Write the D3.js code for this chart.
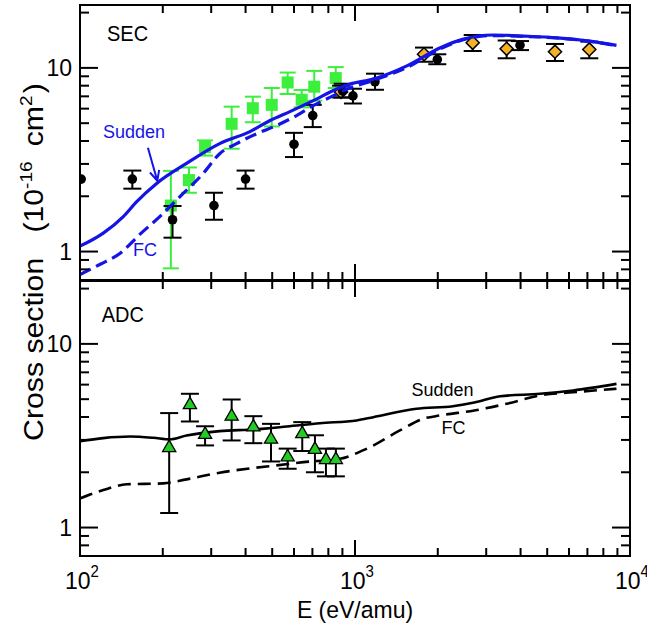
<!DOCTYPE html>
<html><head><meta charset="utf-8">
<script src="https://cdn.jsdelivr.net/npm/d3@7"></script>
<style>body{margin:0;background:#fff}svg{display:block}</style></head>
<body><svg id="c" width="647" height="631"></svg>
<script>
// ---------- axes ----------
const xDomain = [100, 10000];
const yDomain = [0.7, 22];
const xTickBase = ["10", "10", "10"];
const xTickExp = ["2", "3", "4"];
const yTickLabels = ["1", "10"];

// ---------- SEC panel data ----------
const secCircE  = [101, 155, 217, 307, 400, 600, 702, 902, 983, 1182, 1992, 3981];
const secCircV  = [2.48, 2.48, 1.49, 1.78, 2.48, 3.84, 5.5, 7.5, 7.04, 8.4, 11.1, 13.3];
const secCircLo = [2.48, 2.2, 1.19, 1.49, 2.2, 3.27, 4.76, 6.9, 6.4, 7.6, 10.47, 12.5];
const secCircHi = [2.48, 2.76, 1.77, 2.09, 2.76, 4.43, 6.29, 8.2, 7.7, 9.3, 11.86, 14.0];

const secSqE  = [214, 249, 285, 356, 425, 498, 569, 640, 711, 851];
const secSqV  = [1.78, 2.45, 3.71, 4.96, 6.03, 6.29, 8.33, 6.71, 7.9, 8.8];
const secSqLo = [0.81, 2.09, 3.33, 3.63, 5.06, 4.8, 7.21, 6.1, 6.63, 7.77];
const secSqHi = [2.75, 2.87, 4.03, 6.15, 6.97, 7.77, 9.43, 7.58, 9.63, 10.1];

const secDiaE  = [890, 1782, 2679, 3560, 5336, 7112];
const secDiaV  = [7.4, 11.86, 13.7, 12.7, 12.25, 12.6];
const secDiaLo = [6.9, 10.8, 12.36, 11.28, 10.9, 11.28];
const secDiaHi = [8.0, 12.9, 15.1, 14.1, 13.5, 13.9];

const secSuddenE = [100, 121.5, 143.7, 160.8, 190, 244, 322, 415, 491, 580, 705, 858, 960, 1165, 1544, 2043, 2459, 3176, 4108, 5436, 7145, 8930];
const secSuddenV = [1.07, 1.26, 1.55, 1.87, 2.35, 3.02, 3.87, 4.5, 5.17, 5.78, 6.63, 7.67, 8.16, 8.69, 10.25, 12.87, 14.3, 15.1, 14.9, 14.58, 14.0, 13.27];

const secFcE = [100, 118, 140, 165, 195, 231, 281, 322, 371, 439, 519, 613, 705, 810, 935, 1165, 1544, 2043, 2459, 3176, 4108, 5436, 7145, 8930];
const secFcV = [0.75, 0.85, 0.98, 1.24, 1.55, 1.99, 2.67, 3.41, 3.87, 4.38, 4.86, 5.5, 6.23, 6.91, 7.67, 8.55, 10.05, 12.7, 14.2, 15.0, 14.85, 14.55, 13.95, 13.2];

// ---------- ADC panel data ----------
const adcTriE  = [211, 251, 285, 356, 427, 495, 569, 643, 715, 784, 852];
const adcTriV  = [2.72, 4.66, 3.21, 4.03, 3.52, 3.02, 2.42, 3.24, 2.66, 2.34, 2.34];
const adcTriLo = [1.2, 3.78, 2.8, 2.98, 2.88, 2.29, 2.09, 2.61, 2.0, 1.9, 1.9];
const adcTriHi = [4.2, 5.35, 3.56, 4.98, 4.04, 3.67, 2.69, 3.75, 3.18, 2.69, 2.69];

const adcSuddenE = [100, 121.5, 152, 185, 212, 244, 322, 427, 565, 746, 1014, 1165, 1673, 2270, 2715, 3372, 4705, 6209, 8930];
const adcSuddenV = [2.95, 3.07, 3.13, 3.08, 3.02, 3.17, 3.35, 3.42, 3.55, 3.70, 3.83, 3.99, 4.43, 4.58, 4.8, 5.19, 5.35, 5.58, 6.06];

const adcFcE = [100, 121.5, 148, 201, 244, 322, 427, 519, 649, 882, 1105, 1456, 1770, 2043, 2715, 3560, 4705, 6209, 8930];
const adcFcV = [1.44, 1.6, 1.72, 1.74, 1.83, 1.99, 2.11, 2.18, 2.27, 2.37, 2.69, 3.38, 3.91, 4.08, 4.34, 4.72, 5.24, 5.45, 5.7];

// ---------- annotations (data coords) ----------
const secLabelPos = [125.4, 14.0];
const secSuddenLabelPos = [121.2, 4.16];
const secFcLabelPos = [156, 0.95];
const secArrowFrom = [176.6, 3.67];
const secArrowTo = [191, 2.43];
const adcLabelPos = [119.9, 13.2];
const adcSuddenLabelPos = [1606, 5.2];
const adcFcLabelPos = [2063, 3.23];

// ---------- drawing ----------
const FONT = "'Liberation Sans', Arial, Helvetica, sans-serif";
const BLUE = "#1414e6", GREEN = "#3cef3c", ORANGE = "#f4b223", TRI = "#22cc22";
const svg = d3.select("#c");
const L = 80, R = 630;
const x = d3.scaleLog().domain(xDomain).range([L, R]);
const yT = d3.scaleLog().domain(yDomain).range([280, 5]);
const yB = d3.scaleLog().domain(yDomain).range([556, 281]);

function isMajor(v) { return Math.abs(Math.log10(v) - Math.round(Math.log10(v))) < 1e-6; }

function frame(y) {
  const [y0, y1] = [y.range()[1], y.range()[0]];
  const g = svg.append("g");
  const xt = x.ticks();
  g.selectAll(null).data(xt).join("line")
    .attr("x1", d => x(d)).attr("x2", d => x(d))
    .attr("y1", y0).attr("y2", d => y0 + (isMajor(d) ? 16 : 8))
    .attr("stroke", "#000").attr("stroke-width", 2);
  g.selectAll(null).data(xt).join("line")
    .attr("x1", d => x(d)).attr("x2", d => x(d))
    .attr("y1", y1).attr("y2", d => y1 - (isMajor(d) ? 16 : 8))
    .attr("stroke", "#000").attr("stroke-width", 2);
  const yt = y.ticks();
  g.selectAll(null).data(yt).join("line")
    .attr("y1", d => y(d)).attr("y2", d => y(d))
    .attr("x1", L).attr("x2", d => L + (isMajor(d) ? 18 : 9))
    .attr("stroke", "#000").attr("stroke-width", 2);
  g.selectAll(null).data(yt).join("line")
    .attr("y1", d => y(d)).attr("y2", d => y(d))
    .attr("x1", R).attr("x2", d => R - (isMajor(d) ? 18 : 9))
    .attr("stroke", "#000").attr("stroke-width", 2);
  g.append("rect").attr("x", L).attr("y", y0).attr("width", R - L).attr("height", y1 - y0)
    .attr("fill", "none").attr("stroke", "#000").attr("stroke-width", 2);
  const majors = yt.filter(isMajor);
  g.selectAll(null).data(majors).join("text")
    .attr("transform", d => `translate(72,${y(d) + 8.5}) scale(1,1.08)`)
    .attr("text-anchor", "end").attr("font-family", FONT).attr("font-size", 23)
    .text((d, i) => yTickLabels[i]);
}

function errorBars(g, y, E, lo, hi, color, cap) {
  const idx = d3.range(E.length).filter(i => hi[i] > lo[i]);
  g.selectAll(null).data(idx).join("line")
    .attr("x1", i => x(E[i])).attr("x2", i => x(E[i]))
    .attr("y1", i => y(lo[i])).attr("y2", i => y(hi[i]))
    .attr("stroke", color).attr("stroke-width", 2);
  g.selectAll(null).data(idx.flatMap(i => [[i, lo[i]], [i, hi[i]]])).join("line")
    .attr("x1", d => x(E[d[0]]) - cap).attr("x2", d => x(E[d[0]]) + cap)
    .attr("y1", d => y(d[1])).attr("y2", d => y(d[1]))
    .attr("stroke", color).attr("stroke-width", 2);
}

function curve(g, y, E, V, color, width, dash) {
  const pts = E.map((e, i) => [x(e), y(V[i])]);
  g.append("path").attr("d", d3.line().curve(d3.curveMonotoneX)(pts))
    .attr("fill", "none").attr("stroke", color).attr("stroke-width", width)
    .attr("stroke-dasharray", dash || null).attr("stroke-linecap", "butt");
}

function label(g, y, pos, text, size, color) {
  g.append("text").attr("transform", `translate(${x(pos[0])},${y(pos[1])}) scale(1,1.06)`)
    .attr("font-family", FONT).attr("font-size", size).attr("fill", color).text(text);
}

// ----- top panel -----
const topG = svg.append("g");
svg.append("clipPath").attr("id", "ct").append("rect")
  .attr("x", L).attr("y", 5).attr("width", R - L).attr("height", 275);
const tp = topG.append("g").attr("clip-path", "url(#ct)");
errorBars(tp, yT, secSqE, secSqLo, secSqHi, GREEN, 8);
tp.selectAll(null).data(d3.range(secSqE.length)).join("rect")
  .attr("x", i => x(secSqE[i]) - 6).attr("y", i => yT(secSqV[i]) - 6)
  .attr("width", 12).attr("height", 12).attr("fill", GREEN);
errorBars(tp, yT, secDiaE, secDiaLo, secDiaHi, "#000", 9);
tp.selectAll(null).data(d3.range(secDiaE.length)).join("path")
  .attr("d", d3.symbol(d3.symbolDiamond2, 110)())
  .attr("transform", i => `translate(${x(secDiaE[i])},${yT(secDiaV[i])})`)
  .attr("fill", ORANGE).attr("stroke", "#000").attr("stroke-width", 1.5);
errorBars(tp, yT, secCircE, secCircLo, secCircHi, "#000", 9);
tp.selectAll(null).data(d3.range(secCircE.length)).join("circle")
  .attr("cx", i => x(secCircE[i])).attr("cy", i => yT(secCircV[i])).attr("r", 4.8)
  .attr("fill", "#000");
curve(tp, yT, secFcE, secFcV, BLUE, 3.2, "12,6");
curve(tp, yT, secSuddenE, secSuddenV, BLUE, 3.2);

frame(yT);
label(topG, yT, secLabelPos, "SEC", 20, "#000");
label(topG, yT, secSuddenLabelPos, "Sudden", 18, BLUE);
label(topG, yT, secFcLabelPos, "FC", 18, BLUE);
{
  const x1 = x(secArrowFrom[0]), y1 = yT(secArrowFrom[1]);
  const x2 = x(secArrowTo[0]), y2 = yT(secArrowTo[1]);
  const a = Math.atan2(y2 - y1, x2 - x1), h = 11, s = 0.45;
  topG.append("path")
    .attr("d", `M${x1},${y1}L${x2},${y2}M${x2 - h * Math.cos(a - s)},${y2 - h * Math.sin(a - s)}L${x2},${y2}L${x2 - h * Math.cos(a + s)},${y2 - h * Math.sin(a + s)}`)
    .attr("fill", "none").attr("stroke", BLUE).attr("stroke-width", 2);
}

// ----- bottom panel -----
const botG = svg.append("g");
svg.append("clipPath").attr("id", "cb").append("rect")
  .attr("x", L).attr("y", 281).attr("width", R - L).attr("height", 275);
const bp = botG.append("g").attr("clip-path", "url(#cb)");
curve(bp, yB, adcFcE, adcFcV, "#000", 2.6, "13,7");
curve(bp, yB, adcSuddenE, adcSuddenV, "#000", 2.6);
errorBars(bp, yB, adcTriE, adcTriLo, adcTriHi, "#000", 9);
const triSym = d3.symbol(d3.symbolTriangle, 75)();
bp.selectAll(null).data(d3.range(adcTriE.length)).join("path")
  .attr("d", triSym)
  .attr("transform", i => `translate(${x(adcTriE[i])},${yB(adcTriV[i])})`)
  .attr("fill", TRI).attr("stroke", "#000").attr("stroke-width", 1.3);
frame(yB);
label(botG, yB, adcLabelPos, "ADC", 20, "#000");
label(botG, yB, adcSuddenLabelPos, "Sudden", 18, "#000");
label(botG, yB, adcFcLabelPos, "FC", 18, "#000");

// ----- x tick labels -----
const xl = svg.selectAll(null).data(x.ticks().filter(isMajor)).join("text")
  .attr("transform", d => `translate(${x(d) + 2},589) scale(1,1.08)`).attr("text-anchor", "middle")
  .attr("font-family", FONT).attr("font-size", 23);
xl.append("tspan").text((d, i) => xTickBase[i]);
xl.append("tspan").attr("dy", -11).attr("font-size", 15).text((d, i) => xTickExp[i]);

// ----- axis titles -----
svg.append("text").attr("transform", "translate(355,618) scale(1,1.06)").attr("text-anchor", "middle")
  .attr("font-family", FONT).attr("font-size", 23).text("E (eV/amu)");
const ytt = svg.append("text").attr("transform", "translate(43,262) rotate(-90) scale(1.12,1)")
  .attr("text-anchor", "middle").attr("font-family", FONT).attr("font-size", 27);
ytt.append("tspan").text("Cross section\u00a0\u00a0\u00a0(10");
ytt.append("tspan").attr("dy", -11).attr("font-size", 17).text("-16");
ytt.append("tspan").attr("dy", 11).attr("dx", 6).text("\u00a0cm");
ytt.append("tspan").attr("dy", -11).attr("font-size", 17).text("2");
ytt.append("tspan").attr("dy", 11).attr("dx", 2).text(")");
</script>
</body></html>
